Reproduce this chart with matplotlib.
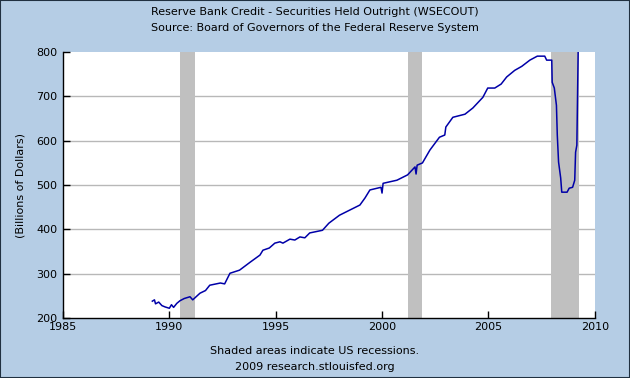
import matplotlib.pyplot as plt
from matplotlib.patches import Rectangle

# WSECOUT (year, billions of dollars)
years = [1989.20, 1989.30, 1989.35, 1989.50, 1989.65, 1989.80, 1990.00, 1990.10,
         1990.20, 1990.35, 1990.50, 1990.70, 1990.97, 1991.10, 1991.44, 1991.70,
         1991.90, 1992.40, 1992.60, 1992.85, 1993.30, 1993.80, 1994.26, 1994.40,
         1994.70, 1994.96, 1995.20, 1995.34, 1995.67, 1995.90, 1996.14, 1996.37,
         1996.60, 1997.20, 1997.50, 1998.00, 1998.50, 1998.96, 1999.20, 1999.43,
         1999.95, 2000.00, 2000.05, 2000.70, 2001.20, 2001.55, 2001.60, 2001.65,
         2001.90, 2002.25, 2002.70, 2002.95, 2003.00, 2003.33, 2003.90, 2004.27,
         2004.74, 2004.97, 2005.30, 2005.60, 2005.86, 2006.24, 2006.57, 2006.95,
         2007.30, 2007.65, 2007.74, 2007.98, 2008.00, 2008.10, 2008.20, 2008.24,
         2008.30, 2008.40, 2008.45, 2008.70, 2008.80, 2008.96, 2009.06, 2009.10,
         2009.16, 2009.25]
values = [238, 241, 232, 236, 228, 225, 222, 230,
          224, 233, 239, 244, 248, 241, 256, 262,
          274, 279, 277, 301, 308, 326, 342, 353,
          358, 369, 372, 369, 378, 376, 383, 381,
          392, 398, 414, 432, 444, 455, 471, 489,
          495, 482, 504, 511, 523, 541, 525, 545,
          550, 579, 608, 613, 631, 653, 660, 674,
          698, 719, 719, 728, 744, 759, 768, 782,
          791, 791, 782, 782, 732, 719, 680, 613,
          552, 516, 484, 484, 493, 495, 511, 574,
          590, 900]

recessions = [(1990.50, 1991.20), (2001.20, 2001.90), (2007.93, 2009.25)]
xticks = [1985, 1990, 1995, 2000, 2005, 2010]
yticks = [200, 300, 400, 500, 600, 700, 800]

bg = "#B5CDE5"
plt.rcParams["font.family"] = "DejaVu Sans"

fig = plt.figure(figsize=(6.3, 3.78), dpi=100, facecolor=bg)
ax = fig.add_axes([0.1, 0.1587, 0.844, 0.7033])
ax.set_facecolor("white")

for start, end in recessions:
    ax.axvspan(start, end, color="#C0C0C0", lw=0, zorder=2)
for y in yticks[1:-1]:
    ax.axhline(y, color="#B8B8B8", lw=1, zorder=1)

ax.plot(years, values, color="#0000A8", lw=1.1, zorder=3)

ax.set_xlim(1985, 2010)
ax.set_ylim(200, 800)
ax.set_xticks(xticks)
ax.set_yticks(yticks)
ax.tick_params(direction="in", length=5, width=1, labelsize=8, colors="black", pad=3)
ax.tick_params(axis="y", pad=4)
for s in ["top", "right"]:
    ax.spines[s].set_visible(False)
for s in ["left", "bottom"]:
    ax.spines[s].set_linewidth(1)
ax.set_ylabel("(Billions of Dollars)", fontsize=8, labelpad=8)

fig.text(0.5, 0.968, "Reserve Bank Credit - Securities Held Outright (WSECOUT)",
         ha="center", va="center", fontsize=8)
fig.text(0.5, 0.926, "Source: Board of Governors of the Federal Reserve System",
         ha="center", va="center", fontsize=8)
fig.text(0.5, 0.071, "Shaded areas indicate US recessions.",
         ha="center", va="center", fontsize=8)
fig.text(0.5, 0.029, "2009 research.stlouisfed.org",
         ha="center", va="center", fontsize=8)

fig.patches.append(Rectangle((0, 0), 1, 1, transform=fig.transFigure,
                             fill=False, edgecolor="#203040", lw=1.5))

fig.savefig("out.png", dpi=100, facecolor=bg)
